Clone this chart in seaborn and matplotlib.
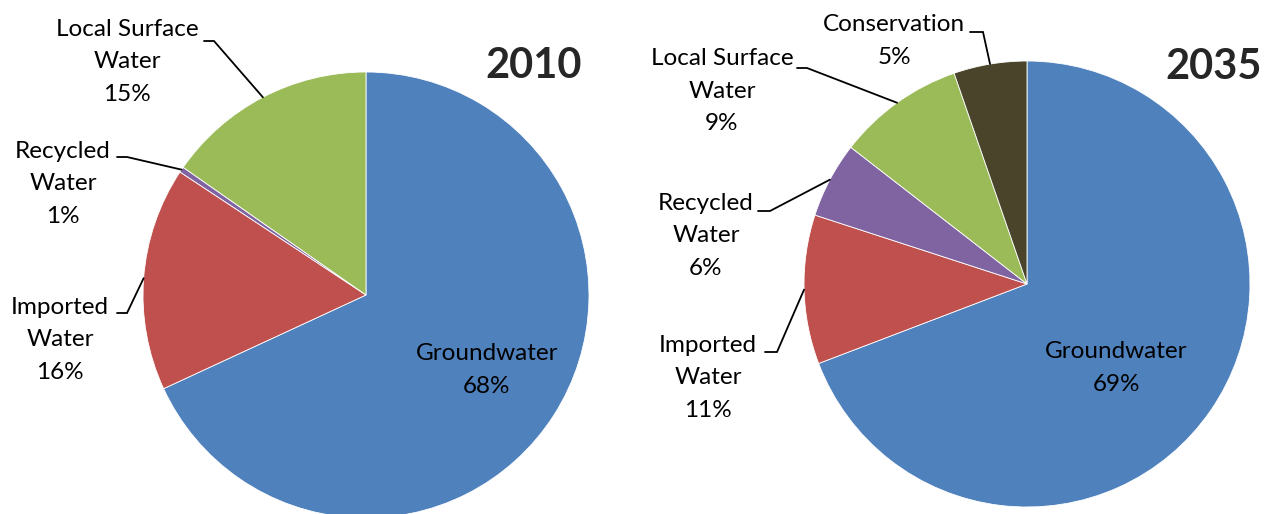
import numpy as np
import matplotlib
matplotlib.use("Agg")
import matplotlib.pyplot as plt
import seaborn as sns

# ---- data ----
cats_2010 = ["Groundwater", "Imported\nWater", "Recycled\nWater", "Local Surface\nWater"]
vals_2010 = [68.1, 16.2, 0.4, 15.3]
pct_2010 = ["68%", "16%", "1%", "15%"]

cats_2035 = ["Groundwater", "Imported\nWater", "Recycled\nWater", "Local Surface\nWater", "Conservation"]
vals_2035 = [69.2, 10.8, 5.5, 9.2, 5.3]
pct_2035 = ["69%", "11%", "6%", "9%", "5%"]

colors_2010 = ["#4F81BD", "#C0504D", "#8064A2", "#9BBB59"]
colors_2035 = ["#4F81BD", "#C0504D", "#8064A2", "#9BBB59", "#4A452A"]

titles = ["2010", "2035"]

sns.set_theme(style="white")
plt.rcParams["font.family"] = ["Lato", "DejaVu Sans"]

W, H = 1271, 514
fig = plt.figure(figsize=(W / 100, H / 100), dpi=100)
ax = fig.add_axes([0, 0, 1, 1])

def P(px, py):
    return (px, H - py)

R = 223
FS = 17.5

def draw_pie(center_px, vals, colors):
    c = P(*center_px)
    wedges, _ = ax.pie(vals, colors=colors, startangle=90, counterclock=False,
                       center=c, radius=R, frame=True,
                       wedgeprops=dict(edgecolor="white", linewidth=0.6))
    return wedges

def mid_point(center_px, vals, i):
    cum = np.cumsum([0] + list(vals)) / sum(vals)
    phi = np.deg2rad(360 * (cum[i] + cum[i + 1]) / 2)
    c = P(*center_px)
    return (c[0] + R * np.sin(phi), c[1] + R * np.cos(phi))

def label(text, pos_px, start_px=None, elbow_px=None, center_px=None, vals=None, i=None):
    x, y = P(*pos_px)
    ax.text(x, y, text, ha="center", va="center", fontsize=FS, linespacing=1.66,
            color="black")
    if start_px is not None:
        s = P(*start_px)
        e = P(*elbow_px)
        m = mid_point(center_px, vals, i)
        ax.plot([s[0], e[0], m[0]], [s[1], e[1], m[1]], color="black", lw=1.3,
                solid_joinstyle="miter")

# ---- 2010 ----
c1 = (366, 295)
draw_pie(c1, vals_2010, colors_2010)
label(cats_2010[0] + "\n" + pct_2010[0], (487, 370))
label(cats_2010[1] + "\n" + pct_2010[1], (60, 340), (117, 313), (127, 313), c1, vals_2010, 1)
label(cats_2010[2] + "\n" + pct_2010[2], (63, 184), (117, 157), (127, 157), c1, vals_2010, 2)
label(cats_2010[3] + "\n" + pct_2010[3], (127, 62), (204, 41), (214, 41), c1, vals_2010, 3)
ax.text(*P(534, 66), titles[0], ha="center", va="center", fontsize=30, fontweight="bold")

# ---- 2035 ----
c2 = (1027, 284)
draw_pie(c2, vals_2035, colors_2035)
label(cats_2035[0] + "\n" + pct_2035[0], (1116, 368))
label(cats_2035[1] + "\n" + pct_2035[1], (708, 378), (765, 352), (777, 352), c2, vals_2035, 1)
label(cats_2035[2] + "\n" + pct_2035[2], (706, 236), (758, 211), (770, 211), c2, vals_2035, 2)
label(cats_2035[3] + "\n" + pct_2035[3], (722, 91), (797, 68), (807, 68), c2, vals_2035, 3)
label(cats_2035[4] + "\n" + pct_2035[4], (894, 41), (970, 32), (983, 32), c2, vals_2035, 4)
ax.text(*P(1214, 67), titles[1], ha="center", va="center", fontsize=30, fontweight="bold")

ax.set_xlim(0, W)
ax.set_ylim(0, H)
ax.set_aspect("auto")
ax.axis("off")

fig.savefig("out.png", dpi=100, facecolor="white")
